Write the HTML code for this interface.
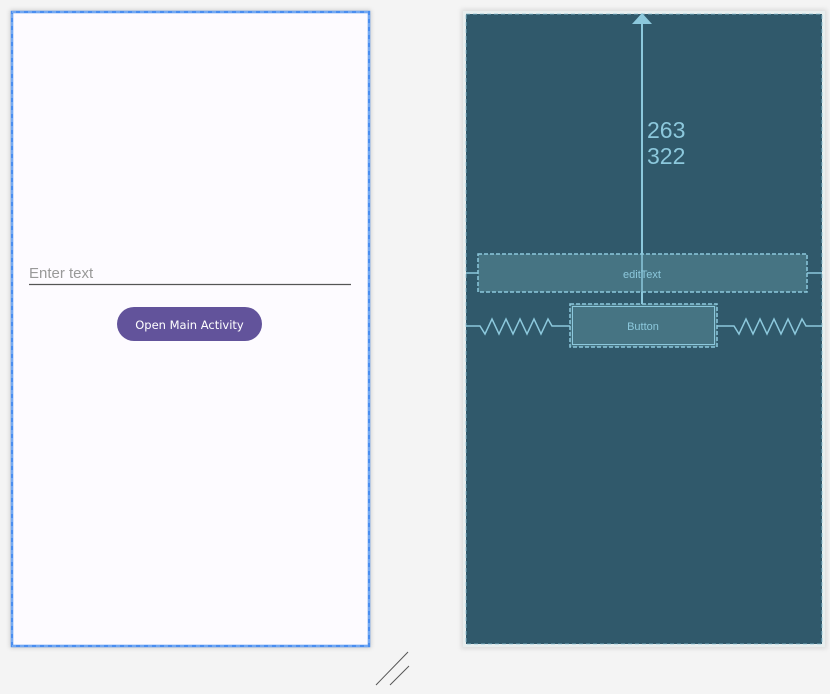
<!DOCTYPE html>
<html><head><style>body{margin:0;background:#f4f4f4;width:830px;height:694px;overflow:hidden}</style></head>
<body>
<svg width="830" height="694" xmlns="http://www.w3.org/2000/svg" style="position:absolute;left:0;top:0">
<defs><filter id="sh" x="-5%" y="-5%" width="110%" height="110%"><feGaussianBlur stdDeviation="2"/></filter></defs>
<rect x="10" y="10" width="361" height="638" fill="#ccc" filter="url(#sh)"/>
<rect x="12" y="12" width="357" height="634" fill="#fdfbff" stroke="#4a8ef0" stroke-width="2.5"/>
<rect x="12" y="12" width="357" height="634" fill="none" stroke="#9cc4f6" stroke-width="1" stroke-dasharray="4 4"/>
<text x="29" y="278" font-family="Liberation Sans, sans-serif" font-size="15" fill="#999">Enter text</text>
<line x1="29" y1="284.5" x2="351" y2="284.5" stroke="#555" stroke-width="1.2"/>
<rect x="117" y="307" width="145" height="34" rx="17" fill="#62539b"/>
<text x="189.5" y="329" text-anchor="middle" font-family="DejaVu Sans, sans-serif" font-size="11.5" fill="#fff">Open Main Activity</text>

<rect x="461" y="9" width="366" height="640" fill="#ddd" filter="url(#sh)"/>
<rect x="463" y="11" width="362" height="636" fill="#e8eeee"/>
<rect x="466" y="14" width="356" height="630" fill="#30596b"/>
<rect x="466" y="14" width="356" height="630" fill="none" stroke="#8fc3d6" stroke-width="0.8" stroke-dasharray="4 3"/>
<line x1="642" y1="20" x2="642" y2="304" stroke="#8cc8dc" stroke-width="2"/>
<polygon points="632,24 652,24 642,13" fill="#8cc8dc"/>
<text x="647" y="138" font-family="Liberation Sans, sans-serif" font-size="23" fill="#8cc8dc">263</text>
<text x="647" y="164" font-family="Liberation Sans, sans-serif" font-size="23" fill="#8cc8dc">322</text>
<line x1="466" y1="273" x2="478" y2="273" stroke="#8cc8dc" stroke-width="1.5"/>
<line x1="807" y1="273" x2="822" y2="273" stroke="#8cc8dc" stroke-width="1.5"/>
<rect x="478" y="254" width="329" height="38" fill="#467483" stroke="#8cc8dc" stroke-width="1.5" stroke-dasharray="4 2"/>
<line x1="642" y1="254" x2="642" y2="304" stroke="#8cc8dc" stroke-width="1.5"/>
<text x="642" y="278" text-anchor="middle" font-family="Liberation Sans, sans-serif" font-size="11" fill="#8cc8dc">editText</text>
<polyline points="466,326 480,326 485,334 492,319 499,334 506,319 513,334 520,319 527,334 534,319 541,334 548,319 552,326 570,326" fill="none" stroke="#8cc8dc" stroke-width="1.5"/>
<polyline points="717,326 734,326 739,334 746,319 753,334 760,319 767,334 774,319 781,334 788,319 795,334 802,319 806,326 822,326" fill="none" stroke="#8cc8dc" stroke-width="1.5"/>
<rect x="570" y="304" width="147" height="43" fill="#467483" stroke="#8cc8dc" stroke-width="1.5" stroke-dasharray="4 2"/>
<rect x="572.5" y="306.5" width="142" height="38" fill="none" stroke="#8cc8dc" stroke-width="1"/>
<text x="643" y="330" text-anchor="middle" font-family="Liberation Sans, sans-serif" font-size="11" fill="#8cc8dc">Button</text>
<line x1="376" y1="685" x2="408" y2="652" stroke="#555" stroke-width="1"/>
<line x1="390" y1="685" x2="409" y2="666" stroke="#555" stroke-width="1"/>
</svg>
</body></html>
